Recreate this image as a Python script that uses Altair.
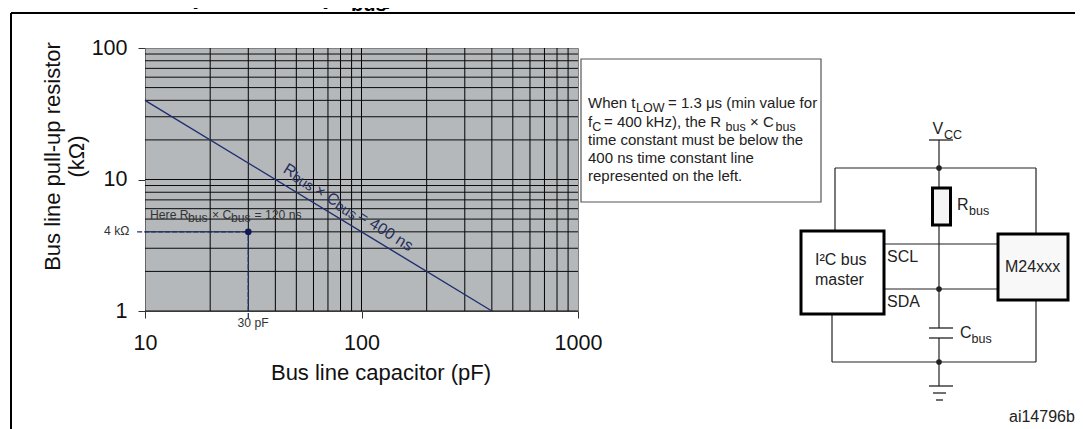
import altair as alt
import pandas as pd

# ---- chart values ----
grid_x = [20, 30, 40, 50, 60, 70, 80, 90, 100, 200, 300, 400, 500, 600, 700, 800, 900]
grid_y = [1, 2, 3, 4, 5, 6, 7, 8, 9, 10, 20, 30, 40, 50, 60, 70, 80, 90]
rc_c = [10, 400]
rc_r = [40, 1]
dash_h_c = [9.2, 30]
dash_h_r = [4, 4]
dash_v_c = [30, 30]
dash_v_r = [0.885, 4]
point_c = [30]
point_r = [4]
x_ticks = [10, 100, 1000]
y_ticks = [1, 10, 100]

NAVY = "#1f2f70"
NAVY_TEXT = "#262f5c"
INK = "#222222"
FONT = "Liberation Sans"
PX = (145, 578)
PY = (311, 48)

# ---- annotation and diagram items (page positions) ----
lines = [
    # frame
    (11, 13, 1083, 13, 2, "#000000"), (11, 13, 11, 429, 2, "#000000"),
    # Vcc
    (929, 140, 953, 140, 1.3, INK), (939, 140, 939, 188, 1.2, INK),
    # top rail and drops
    (835, 168, 1036, 168, 1.2, INK), (835, 168, 835, 231, 1.2, INK), (1036, 168, 1036, 234, 1.2, INK),
    # bus
    (884, 244, 998, 244, 1.2, INK), (884, 289, 998, 289, 1.2, INK),
    (939, 225, 939, 328, 1.2, INK),
    # capacitor
    (929, 328, 953, 328, 1.3, INK), (929, 338, 953, 338, 1.3, INK), (939, 338, 939, 386, 1.2, INK),
    # bottom rail
    (832, 314, 832, 362, 1.2, INK), (1036, 300, 1036, 362, 1.2, INK), (832, 362, 1036, 362, 1.2, INK),
    # ground
    (929, 386, 953, 386, 1.3, INK), (933, 393, 946, 393, 1.3, INK), (936, 400, 943, 400, 1.3, INK),
]
boxes = [
    (581, 59, 821, 202, "#ffffff", "#555555", 1.2),
    (932.5, 188, 950.5, 225, "#f4f4f4", "#000000", 3),
    (801, 231, 884, 314, "#ffffff", "#000000", 3),
    (998, 234, 1068, 300, "#f8f8f8", "#000000", 3),
]
dots = [(939, 168), (939, 289), (939, 362)]
S, SUB = 15, 12.5
DS, DSUB = 16, 12.5
AN = 12.2
RS, RSUB = 16, 14
labels = [
    ("4 kΩ", 104, 235, AN, 0, "#333333"),
    ("30 pF", 237.5, 327, AN, 0, "#333333"),
    ("Here R", 150, 218.5, AN, 0, "#333333"), ("bus", 188, 222, AN, 0, "#333333"),
    ("× C", 212, 218.5, AN, 0, "#333333"), ("bus", 231, 222, AN, 0, "#333333"),
    ("= 120 ns", 254.5, 218.5, AN, 0, "#333333"),
    ("When t", 588, 108, S, 0, INK), ("LOW", 636, 112, SUB, 0, INK), ("= 1.3 μs (min value for", 668, 108, S, 0, INK),
    ("f", 588, 127, S, 0, INK), ("C", 592.2, 131, SUB, 0, INK), ("= 400 kHz), the R", 604, 127, S, 0, INK),
    ("bus", 725.5, 131, SUB, 0, INK), ("× C", 750, 127, S, 0, INK), ("bus", 775.5, 131, SUB, 0, INK),
    ("time constant must be below the", 588, 145, S, 0, INK),
    ("400 ns time constant line", 588, 163, S, 0, INK),
    ("represented on the left.", 588, 181, S, 0, INK),
    ("V", 932.5, 134, DS, 0, INK), ("CC", 944, 139, DSUB, 0, INK),
    ("R", 957, 210, DS, 0, INK), ("bus", 969, 215, DSUB, 0, INK),
    ("I²C bus", 815, 265, DS, 0, INK), ("master", 815, 285, DS, 0, INK),
    ("SCL", 887, 262, DS, 0, INK), ("SDA", 887, 307, DS, 0, INK),
    ("M24xxx", 1005, 272, DS, 0, INK),
    ("C", 960, 338, DS, 0, INK), ("bus", 971.5, 343, DSUB, 0, INK),
    ("ai14796b", 1009, 422, DS, 0, INK),
    # along the 400 ns line
    ("R", 282.3, 171.7, RS, 32, NAVY_TEXT), ("bus", 291, 179.5, RSUB, 32, NAVY_TEXT),
    ("× C", 313.6, 193.1, RS, 32, NAVY_TEXT), ("bus", 334, 208, RSUB, 32, NAVY_TEXT),
    ("= 400 ns", 356.5, 219, RS, 32, NAVY_TEXT),
]
bold_labels = [
    ("capacitance (C", 163, 4, 26), ("bus", 351, 11, 20), (")", 385, 4, 26),
]

# ---- tables ----
L = pd.DataFrame(lines, columns=["x", "y", "x2", "y2", "w", "c"])
B = pd.DataFrame(boxes, columns=["x", "y", "x2", "y2", "f", "s", "w"])
D = pd.DataFrame(dots, columns=["x", "y"])
T = pd.DataFrame(labels, columns=["t", "x", "y", "s", "a", "c"])
TB = pd.DataFrame(bold_labels, columns=["t", "x", "y", "s"])

log_x = alt.Scale(type="log", domain=[10, 1000], nice=False)
log_y = alt.Scale(type="log", domain=[1, 100], nice=False)
x_axis = alt.Axis(values=x_ticks, format="d", grid=False, tickSize=7, tickColor="#333333",
                  domainColor="#666666", labelFontSize=21.5, labelFont=FONT, labelColor="#111111",
                  labelPadding=14, titleFont=FONT, titleFontSize=22, titleFontWeight="normal",
                  titleColor="#111111", titlePadding=9, titleX=235.5, labelFlush=False, labelOverlap=False)
y_axis = alt.Axis(values=y_ticks, format="d", grid=False, tickSize=7, tickColor="#333333",
                  domainColor="#666666", labelFontSize=21.5, labelFont=FONT, labelColor="#111111",
                  labelPadding=11, titleFont=FONT, titleFontSize=22, titleFontWeight="normal",
                  titleColor="#111111", titlePadding=3, titleY=108, labelFlush=False, labelOverlap=False)
xn = alt.X("c:Q", scale=log_x, axis=x_axis, title="Bus line capacitor (pF)")
yn = alt.Y("r:Q", scale=log_y, axis=y_axis, title=["Bus line pull-up resistor", "(kΩ)"])

grid_v = alt.Chart(pd.DataFrame({"c": grid_x})).mark_rule(color="#000000", strokeWidth=1).encode(x=xn)
grid_h = alt.Chart(pd.DataFrame({"r": grid_y})).mark_rule(color="#0a0a0a", strokeWidth=1).encode(y=yn)
rc_line = alt.Chart(pd.DataFrame({"c": rc_c, "r": rc_r})).mark_line(color=NAVY, strokeWidth=1.4).encode(x=xn, y=yn)
dash_h = alt.Chart(pd.DataFrame({"c": dash_h_c, "r": dash_h_r})).mark_line(
    color=NAVY, strokeWidth=1.3, strokeDash=[5, 2]).encode(x=xn, y=yn)
dash_v = alt.Chart(pd.DataFrame({"c": dash_v_c, "r": dash_v_r})).mark_line(
    color=NAVY, strokeWidth=1.3, strokeDash=[5, 2]).encode(x=xn, y=yn)
pt = alt.Chart(pd.DataFrame({"c": point_c, "r": point_r})).mark_point(
    filled=True, color="#111a55", size=45, opacity=1).encode(x=xn, y=yn)
plot = alt.layer(grid_v, grid_h, rc_line, dash_h, dash_v, pt)

# page-position layers
sx = alt.Scale(domain=list(PX), nice=False, zero=False)
sy = alt.Scale(domain=list(PY), nice=False, zero=False)
px = alt.X("x:Q", scale=sx, axis=None)
py = alt.Y("y:Q", scale=sy, axis=None)
px2 = alt.X2("x2:Q")
py2 = alt.Y2("y2:Q")

box_layer = alt.Chart(B).mark_rect().encode(
    x=px, x2=px2, y=py, y2=py2,
    fill=alt.Fill("f:N", scale=None), stroke=alt.Stroke("s:N", scale=None),
    strokeWidth=alt.StrokeWidth("w:Q", scale=None))
line_layer = alt.Chart(L).mark_rule().encode(
    x=px, x2=px2, y=py, y2=py2,
    strokeWidth=alt.StrokeWidth("w:Q", scale=None), color=alt.Color("c:N", scale=None))
dot_layer = alt.Chart(D).mark_point(filled=True, color=INK, size=32, opacity=1).encode(x=px, y=py)
text_layer = alt.Chart(T).mark_text(align="left", baseline="alphabetic", font=FONT).encode(
    x=px, y=py, text="t:N", size=alt.Size("s:Q", scale=None),
    angle=alt.Angle("a:Q", scale=None), color=alt.Color("c:N", scale=None))
bold_layer = alt.Chart(TB).mark_text(align="left", baseline="alphabetic", font=FONT, fontWeight="bold",
                                     color="#000000").encode(
    x=px, y=py, text="t:N", size=alt.Size("s:Q", scale=None))
page = alt.layer(line_layer, box_layer, dot_layer, text_layer, bold_layer)

chart = alt.layer(plot, page).resolve_scale(x="independent", y="independent").properties(
    width=433, height=263,
    autosize="none",
    padding={"left": 137, "top": 40, "right": 497, "bottom": 118},
).configure_view(fill="#b5b8bb", stroke="#808080")

chart.save("out.html", embed_options={"renderer": "svg", "actions": False})
